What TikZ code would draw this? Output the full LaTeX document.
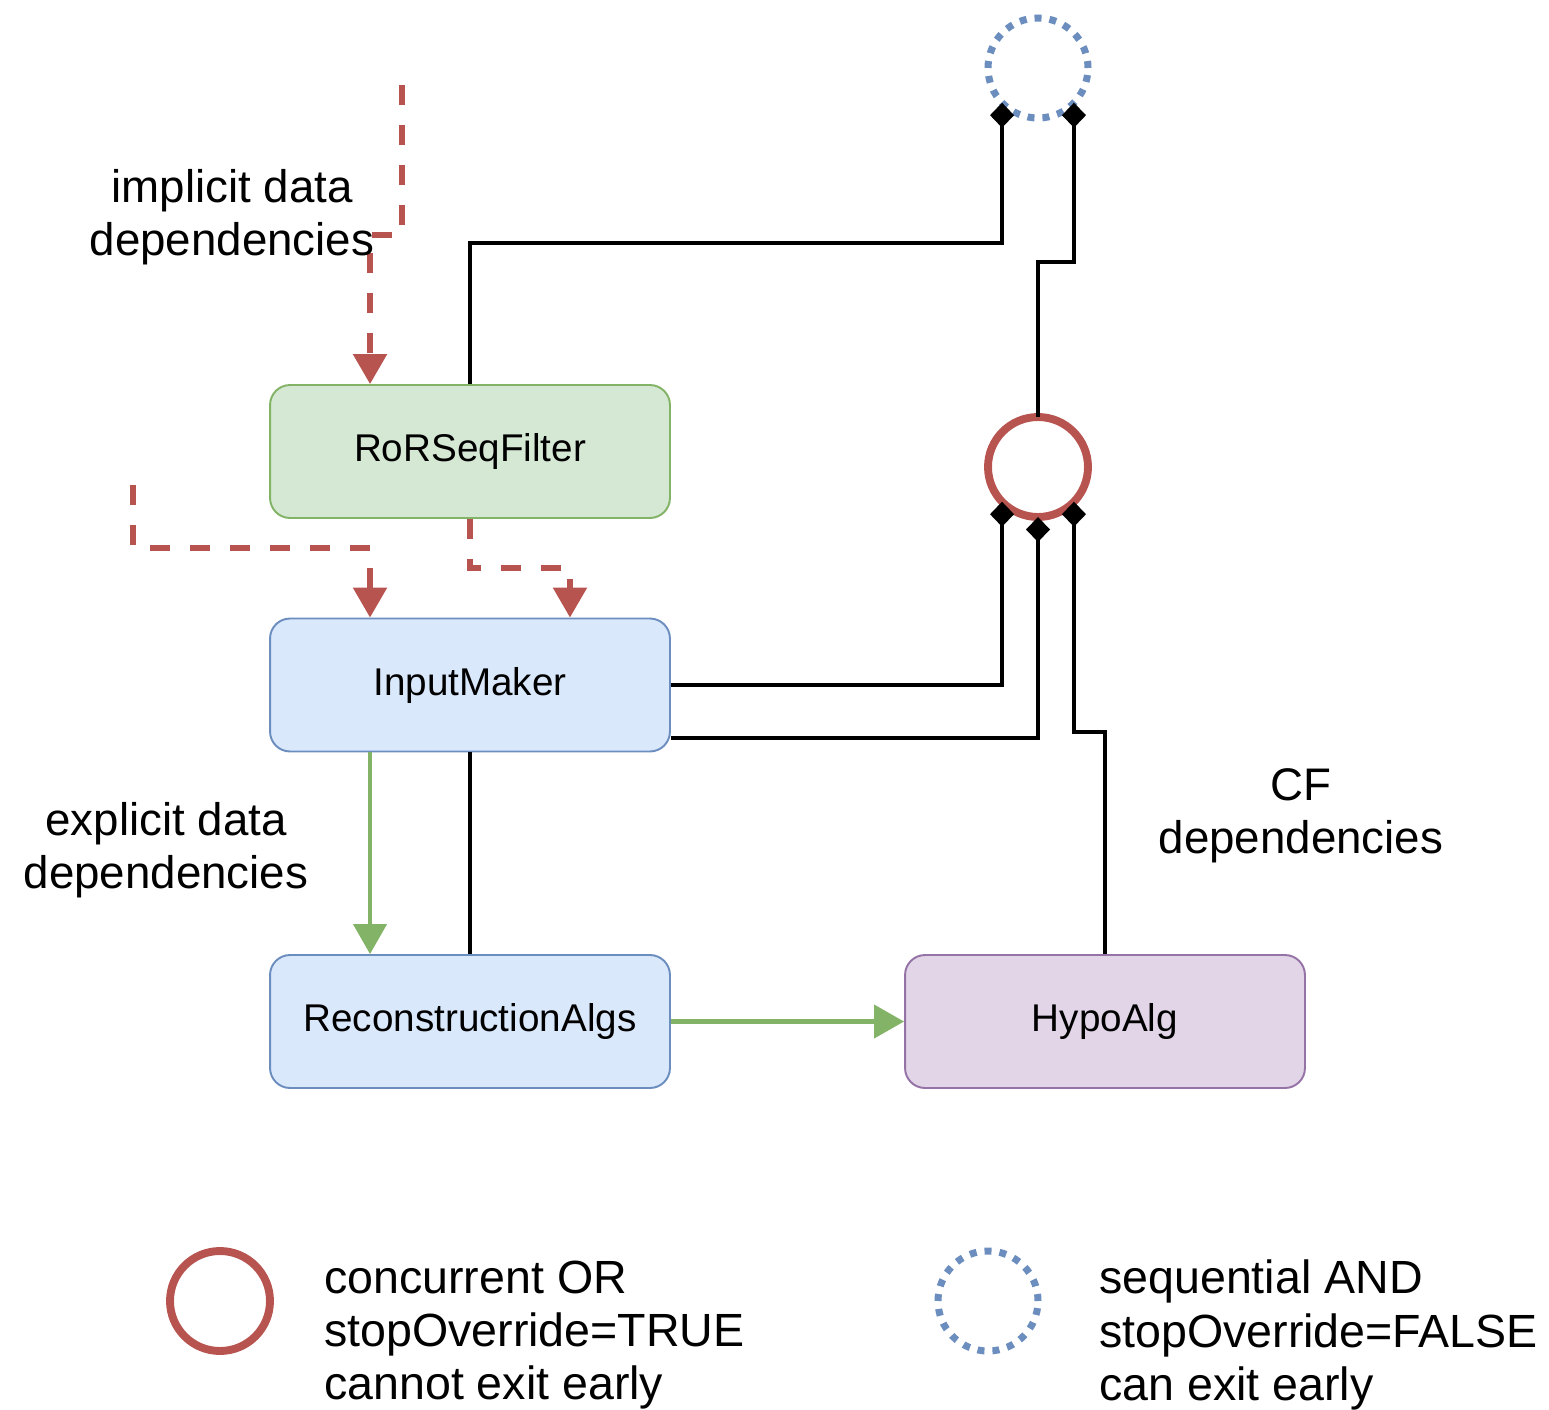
\documentclass[tikz,border=0pt]{standalone}
\usepackage{fontspec}
\setmainfont{Liberation Sans}
\usetikzlibrary{arrows.meta}
\definecolor{dred}{HTML}{B85450}
\definecolor{dblue}{HTML}{6C8EBF}
\definecolor{dgreen}{HTML}{82B366}
\definecolor{dpurple}{HTML}{9673A6}
\definecolor{fgreen}{HTML}{D5E8D4}
\definecolor{fblue}{HTML}{DAE8FC}
\definecolor{fpurple}{HTML}{E1D5E7}
\begin{document}
\begin{tikzpicture}[x=0.02cm,y=-0.02cm]
        \tikzstyle{alg}=[rectangle,rounded corners=0.4cm,line width=1.1pt,minimum width=8cm,minimum height=2.66cm,font=\fontsize{22}{26}\selectfont]
        \tikzstyle{orgate}=[circle,draw=dred,line width=4.5pt,minimum size=2cm,inner sep=0pt,outer sep=0pt]
        \tikzstyle{andgate}=[circle,draw=dblue,line width=4pt,dash pattern=on 0.14cm off 0.16cm,minimum size=2cm,inner sep=0pt,outer sep=0pt]
        \tikzstyle{cf}=[draw,line width=1.8pt,-{Diamond[length=0.5cm,width=0.48cm]}]
        \tikzstyle{implicit}=[draw=dred,line width=3.2pt,dash pattern=on 0.4cm off 0.4cm,-{Triangle[length=0.6cm,width=0.66cm]}]
        \tikzstyle{explicit}=[draw=dgreen,line width=2.4pt,-{Triangle[length=0.6cm,width=0.66cm]}]
        \tikzstyle{lbl}=[align=center,font=\fontsize{26}{30}\selectfont]
        \tikzstyle{legend}=[align=left,anchor=west,font=\fontsize{26.5}{30.2}\selectfont]

        \useasboundingbox (0,0) rectangle (1549,1410);

        % algorithms
        \node [alg,fill=fgreen,draw=dgreen] (rsf) at (470,451.5) {RoRSeqFilter};
        \node [alg,fill=fblue,draw=dblue] (imk) at (470,685) {InputMaker};
        \node [alg,fill=fblue,draw=dblue] (rec) at (470,1021.5) {ReconstructionAlgs};
        \node [alg,fill=fpurple,draw=dpurple] (hyp) at (1105,1021.5) {HypoAlg};

        % control flow nodes
        \node [orgate] (orc) at (1038,467) {};
        \node [andgate] (sand) at (1038,68) {};

        \coordinate (k1) at (0,243);
        \coordinate (k2) at (0,262);
        \coordinate (k3) at (0,732);
        \path[cf] (rsf.north) |- (sand.-136 |- k1) -- (sand.-136);
        \path[cf] (orc.north) |- (sand.-44 |- k2) -- (sand.-44);
        \path[cf] (imk.east) -| (orc.-136);
        \path[cf] ([yshift=-1.06cm]imk.east) -| (orc.south);
        \path[cf] (hyp.north) |- (orc.-44 |- k3) -- (orc.-44);
        \draw[line width=1.8pt] (imk.south) -- (rec.north);

        % data dependencies
        \coordinate (d1) at (402,85);
        \coordinate (d2) at (133,485);
        \path[implicit] (d1) -- ++(0,150) -| ([xshift=-2cm]rsf.north);
        \path[implicit] (d2) -- ++(0,63) -| ([xshift=-2cm]imk.north);
        \path[implicit] (rsf.south) -- ++(0,49) -| ([xshift=2cm]imk.north);
        \path[explicit] ([xshift=-2cm]imk.south) -- ([xshift=-2cm]rec.north);
        \path[explicit] (rec) -- (hyp);

        \node [lbl] (impl) at (232,217) {implicit data\\dependencies};
        \node [lbl] (expl) at (166,850) {explicit data\\dependencies};
        \node [lbl] (cfl) at (1301,816) {CF\\dependencies};

        % legend
        \node [orgate] (lor) at (220,1301) {};
        \node [andgate] (land) at (988,1301) {};
        \node [legend] (tor) at (318,1335) {concurrent OR\\stopOverride=TRUE\\cannot exit early};
        \node [legend] (tand) at (1093,1335) {sequential AND\\stopOverride=FALSE\\can exit early};
\end{tikzpicture}
\end{document}
